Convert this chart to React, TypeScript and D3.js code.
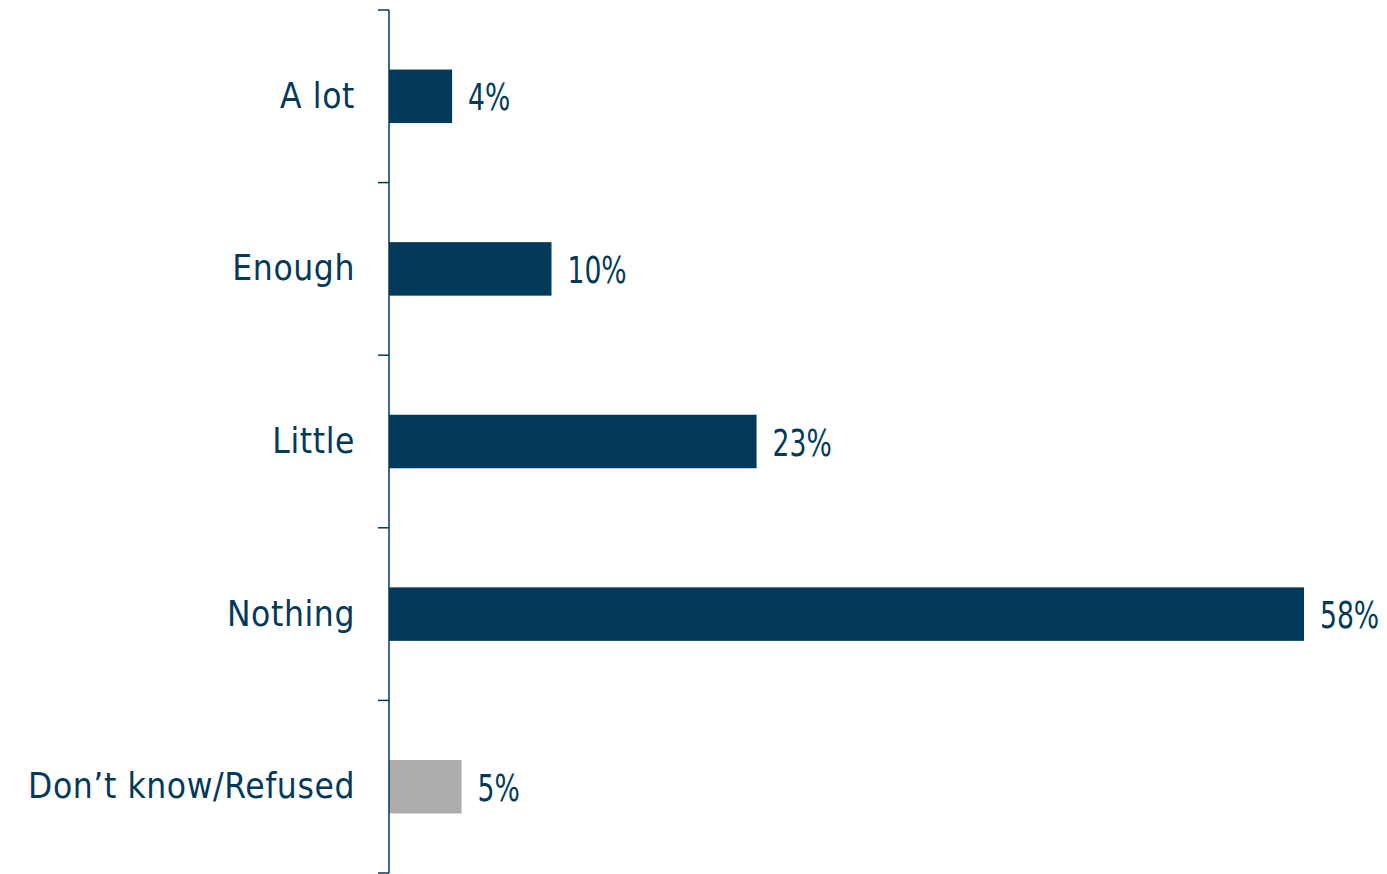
import React from "react";
import * as d3 from "d3";

const categories = ["A lot", "Enough", "Little", "Nothing", "Don’t know/Refused"];
const values = [4.0, 10.3, 23.3, 58.0, 4.6];
const barColors = ["#033a5a", "#033a5a", "#033a5a", "#033a5a", "#acacac"];

const W = 1387;
const H = 874;
const NAVY = "#033a5a";
const FONT = "'DejaVu Sans Condensed', 'DejaVu Sans', sans-serif";

export default function App() {
  const y = d3
    .scaleBand<string>()
    .domain(categories)
    .range([10, 873])
    .paddingInner(0.69)
    .paddingOuter(0.345);
  const x = d3.scaleLinear().domain([0, 58]).range([389, 1304]);
  const step = y.step();
  const off = (step - y.bandwidth()) / 2;
  const tickYs = categories.map((c) => (y(c) as number) - off).concat([873]);
  const x0 = x(0);

  return (
    <div style={{ position: "absolute", left: 0, top: 0 }}>
      <svg width={W} height={H} style={{ display: "block", background: "#fff" }}>
        {categories.map((c, i) => {
          const yy = y(c) as number;
          const cy = yy + y.bandwidth() / 2;
          return (
            <g key={c}>
              <rect x={x0} y={yy} width={x(values[i]) - x0} height={y.bandwidth()} fill={barColors[i]} />
              <text
                x={355}
                y={cy}
                dy="0.33em"
                textAnchor="end"
                fontFamily={FONT}
                fontSize={35}
                letterSpacing={0.6}
                fill={NAVY}
              >
                {c}
              </text>
              <text
                transform={`translate(${x(values[i]) + 16},${cy}) scale(0.8,1)`}
                dy="0.38em"
                fontFamily={FONT}
                fontSize={37}
                fill={NAVY}
              >
                {Math.round(values[i])}%
              </text>
            </g>
          );
        })}
        <line x1={x0} x2={x0} y1={10} y2={873} stroke={NAVY} strokeWidth={1.5} />
        {tickYs.map((t, i) => (
          <line key={i} x1={x0 - 11} x2={x0} y1={t} y2={t} stroke={NAVY} strokeWidth={1.5} />
        ))}
      </svg>
    </div>
  );
}
